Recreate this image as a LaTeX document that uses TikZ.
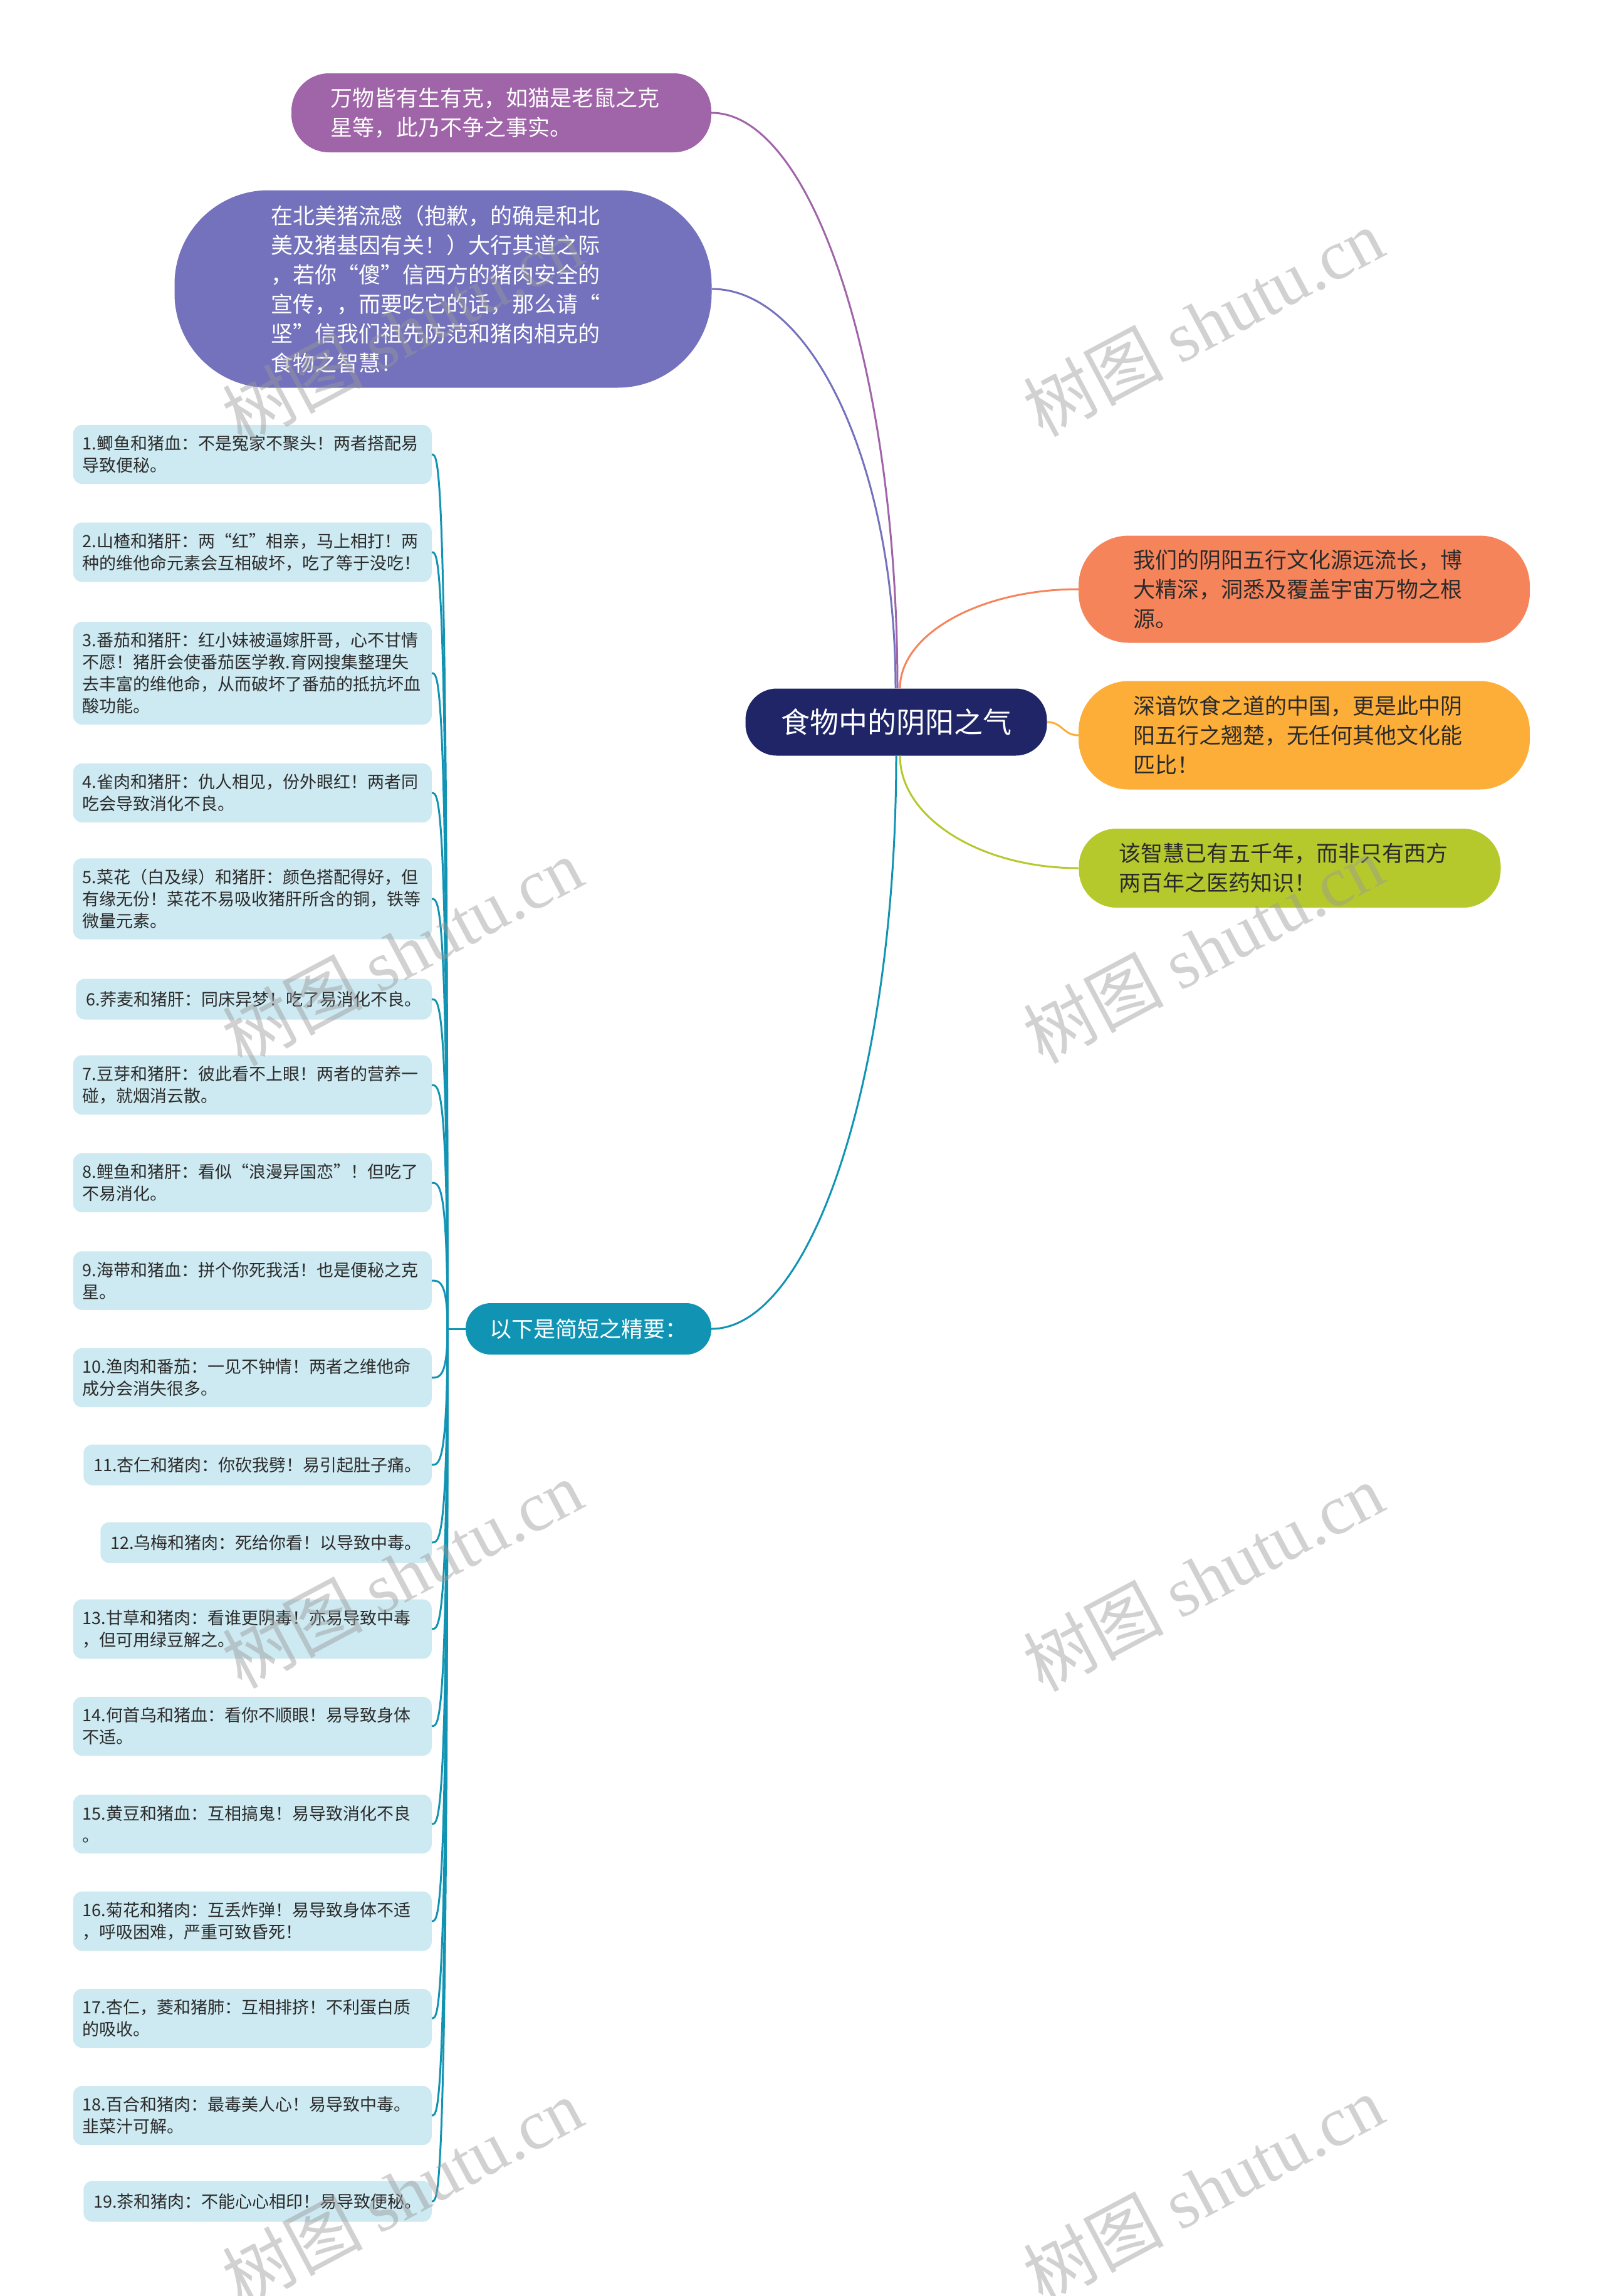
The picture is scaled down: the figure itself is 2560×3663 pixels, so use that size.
\documentclass[tikz,border=0pt]{standalone}
\usepackage{fontspec}
\setmainfont{Noto Sans CJK SC}
\newfontfamily\wmlatin{Liberation Serif}
\definecolor{cPurple}{HTML}{A064A8}
\definecolor{cBlue}{HTML}{7472BC}
\definecolor{cRoot}{HTML}{1F2566}
\definecolor{cOrange}{HTML}{F6845B}
\definecolor{cYellow}{HTML}{FCAE38}
\definecolor{cGreen}{HTML}{B5C92C}
\definecolor{cTeal}{HTML}{1194B3}
\definecolor{cItem}{HTML}{CDE9F1}
\definecolor{cText}{HTML}{2B2B2B}
\begin{document}
\begin{tikzpicture}[x=1pt,y=-1pt,
  itembase/.style={fill=cItem, rounded corners=14pt, text=cText, font=\fontsize{27}{35}\selectfont, inner ysep=17pt, anchor=east},
  itemwide/.style={itembase, text width=542pt, align=left, inner xsep=0pt, minimum width=572pt},
  itemone/.style={itembase, inner xsep=16pt, minimum height=65pt},
  bigbox/.style={text width=546pt, align=left, inner xsep=0pt, inner ysep=0pt, font=\fontsize{35}{47}\selectfont},
  conn/.style={line width=3pt},
  itemconn/.style={line width=3pt, cTeal},
  wm/.style={rotate=28, text=black!40, opacity=0.45, font=\fontsize{112}{112}\selectfont}
]
\useasboundingbox (0,0) rectangle (2560,3663);

% top-left boxes
\node[bigbox, fill=cPurple, text=white, minimum width=670pt, minimum height=126pt, rounded corners=60pt] (p1) at (800,180)
  {万物皆有生有克，如猫是老鼠之克\\星等，此乃不争之事实。};
\node[bigbox, fill=cBlue, text=white, minimum width=857pt, minimum height=315pt, rounded corners=150pt, text width=550pt] (p2) at (707,461)
  {在北美猪流感（抱歉，的确是和北\\美及猪基因有关！）大行其道之际\\，若你“傻”信西方的猪肉安全的\\宣传，，而要吃它的话，那么请“\\坚”信我们祖先防范和猪肉相克的\\食物之智慧！};

% root
\node[fill=cRoot, text=white, font=\fontsize{46}{52}\selectfont, minimum width=481pt, minimum height=107pt, rounded corners=50pt, inner sep=0pt] (root) at (1430,1152) {食物中的阴阳之气};

% right boxes
\node[bigbox, fill=cOrange, text=cText, minimum width=720pt, minimum height=171pt, rounded corners=80pt] (orange) at (2081,940)
  {我们的阴阳五行文化源远流长，博\\大精深，洞悉及覆盖宇宙万物之根\\源。};
\node[bigbox, fill=cYellow, text=cText, minimum width=720pt, minimum height=173pt, rounded corners=80pt] (yellow) at (2081,1173)
  {深谙饮食之道的中国，更是此中阴\\阳五行之翘楚，无任何其他文化能\\匹比！};
\node[bigbox, fill=cGreen, text=cText, minimum width=673pt, minimum height=126pt, rounded corners=60pt] (green) at (2058,1385)
  {该智慧已有五千年，而非只有西方\\两百年之医药知识！};

% hub
\node[fill=cTeal, text=white, font=\fontsize{35}{40}\selectfont, minimum width=392pt, minimum height=82pt, rounded corners=40pt, inner sep=0pt] (hub) at (939,2120) {以下是简短之精要：};

% items
\node[itemwide] (i1) at (689,725) {1.鲫鱼和猪血：不是冤家不聚头！两者搭配易\\导致便秘。};
\node[itemwide] (i2) at (689,881) {2.山楂和猪肝：两“红”相亲，马上相打！两\\种的维他命元素会互相破坏，吃了等于没吃！};
\node[itemwide] (i3) at (689,1074) {3.番茄和猪肝：红小妹被逼嫁肝哥，心不甘情\\不愿！猪肝会使番茄医学教.育网搜集整理失\\去丰富的维他命，从而破坏了番茄的抵抗坏血\\酸功能。};
\node[itemwide] (i4) at (689,1265) {4.雀肉和猪肝：仇人相见，份外眼红！两者同\\吃会导致消化不良。};
\node[itemwide] (i5) at (689,1434) {5.菜花（白及绿）和猪肝：颜色搭配得好，但\\有缘无份！菜花不易吸收猪肝所含的铜，铁等\\微量元素。};
\node[itemone] (i6) at (689,1594) {6.荞麦和猪肝：同床异梦！吃了易消化不良。};
\node[itemwide] (i7) at (689,1731) {7.豆芽和猪肝：彼此看不上眼！两者的营养一\\碰，就烟消云散。};
\node[itemwide] (i8) at (689,1887) {8.鲤鱼和猪肝：看似“浪漫异国恋”！但吃了\\不易消化。};
\node[itemwide] (i9) at (689,2043) {9.海带和猪血：拼个你死我活！也是便秘之克\\星。};
\node[itemwide] (i10) at (689,2198) {10.渔肉和番茄：一见不钟情！两者之维他命\\成分会消失很多。};
\node[itemone] (i11) at (689,2337) {11.杏仁和猪肉：你砍我劈！易引起肚子痛。};
\node[itemone] (i12) at (689,2461) {12.乌梅和猪肉：死给你看！以导致中毒。};
\node[itemwide] (i13) at (689,2599) {13.甘草和猪肉：看谁更阴毒！亦易导致中毒\\，但可用绿豆解之。};
\node[itemwide] (i14) at (689,2754) {14.何首乌和猪血：看你不顺眼！易导致身体\\不适。};
\node[itemwide] (i15) at (689,2910) {15.黄豆和猪血：互相搞鬼！易导致消化不良\\。};
\node[itemwide] (i16) at (689,3065) {16.菊花和猪肉：互丢炸弹！易导致身体不适\\，呼吸困难，严重可致昏死！};
\node[itemwide] (i17) at (689,3220) {17.杏仁，菱和猪肺：互相排挤！不利蛋白质\\的吸收。};
\node[itemwide] (i18) at (689,3375) {18.百合和猪肉：最毒美人心！易导致中毒。\\韭菜汁可解。};
\node[itemone] (i19) at (689,3512) {19.茶和猪肉：不能心心相印！易导致便秘。};

% root connectors
\draw[conn, cPurple] ([xshift=2pt]root.north) .. controls +(0,-505) and +(162,0) .. (p1.east);
\draw[conn, cBlue] ([xshift=-1pt]root.north) .. controls +(0,-350) and +(162,0) .. (p2.east);
\draw[conn, cOrange] ([xshift=6pt]root.north) .. controls +(0,-87) and +(-157,0) .. (orange.west);
\draw[conn, cYellow] (root.east) .. controls +(25,0) and +(-25,0) .. (yellow.west);
\draw[conn, cGreen] ([xshift=6pt]root.south) .. controls +(0,99) and +(-157,0) .. (green.west);
\draw[conn, cTeal] (root.south) .. controls +(0,503) and +(162,0) .. (hub.east);

% hub to items
\coordinate (J) at (714,2120);
\draw[itemconn] (hub.west) -- (J);
\foreach \i in {1,...,19}
  \draw[itemconn] (J) .. controls (J |- i\i.east) and ([xshift=12pt]i\i.east) .. (i\i.east);

% watermarks
\foreach \wx/\wy in {642/526, 642/1518, 642/2511, 642/3497, 1920/514, 1920/1514, 1920/2516, 1920/3492}
  \node[wm] at (\wx,\wy) {树图 {\wmlatin shutu.cn}};
\end{tikzpicture}
\end{document}
